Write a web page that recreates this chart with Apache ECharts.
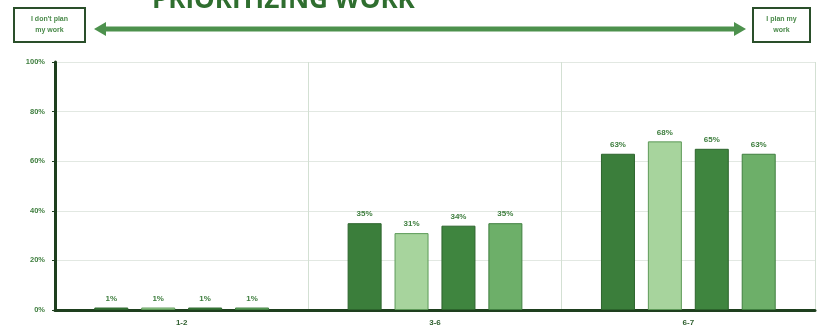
<!DOCTYPE html>
<html>
<head>
<meta charset="utf-8">
<title>Prioritizing work</title>
<script src="https://cdn.jsdelivr.net/npm/echarts@6/dist/echarts.min.js"></script>
<style>
  html, body { margin: 0; padding: 0; background: #ffffff; }
  #chart { width: 817px; height: 336px; }
</style>
</head>
<body>
<div id="chart"></div>
<script>
// Score bands on the planning scale
const categories = ['1-2', '3-6', '6-7'];

// Share of respondents (%) in each band, one array per group
const group1 = [1, 35, 63];
const group2 = [1, 31, 68];
const group3 = [1, 34, 65];
const group4 = [1, 35, 63];

// Value axis tick labels
const yTicks = ['0%', '20%', '40%', '60%', '80%', '100%'];

const fills = ['#3b7e3b', '#a7d49d', '#3f853f', '#6daf69'];
const borders = ['#2c642c', '#5d9a58', '#2c642c', '#3f7f3f'];
const groups = [group1, group2, group3, group4];

const chart = echarts.init(document.getElementById('chart'));

const series = groups.map((values, i) => ({
  type: 'bar',
  data: values,
  barWidth: 34,
  barGap: '38%',
  itemStyle: { color: fills[i], borderColor: borders[i], borderWidth: 1 },
  label: {
    show: true,
    position: 'top',
    distance: 5,
    formatter: (p) => p.value + '%',
    color: '#3d7d3d',
    fontSize: 8,
    fontWeight: 'bold',
    fontFamily: 'Arial, Liberation Sans, sans-serif'
  }
}));

const boxText = {
  fontSize: 7,
  fill: '#4a8a4a',
  fontWeight: 'bold',
  fontFamily: 'Arial, Liberation Sans, sans-serif',
  align: 'center',
  verticalAlign: 'middle',
  lineHeight: 11
};

chart.setOption({
  animation: false,
  backgroundColor: '#ffffff',
  grid: { left: 55, right: 2, top: 62, bottom: 26 },
  xAxis: {
    type: 'category',
    data: categories,
    axisLine: { lineStyle: { color: '#1e3f1e', width: 3 } },
    axisTick: { show: false },
    axisLabel: {
      color: '#2f5f2f',
      fontSize: 8,
      fontWeight: 'bold',
      margin: 9,
      fontFamily: 'Arial, Liberation Sans, sans-serif'
    },
    splitLine: { show: true, lineStyle: { color: '#d3e0d3', width: 1 } }
  },
  yAxis: {
    type: 'value',
    min: 0,
    max: 100,
    interval: 20,
    axisLine: { show: true, lineStyle: { color: '#1e3f1e', width: 3 } },
    axisTick: { show: true, inside: false, length: 3, lineStyle: { color: '#1e3f1e' } },
    axisLabel: {
      formatter: (v) => yTicks[v / 20],
      color: '#3d7d3d',
      fontSize: 7.5,
      fontWeight: 'bold',
      margin: 10,
      fontFamily: 'Arial, Liberation Sans, sans-serif'
    },
    splitLine: { lineStyle: { color: '#e2e8e2', width: 1 } }
  },
  series: series,
  graphic: [
    {
      type: 'text',
      left: 152,
      top: -12,
      style: {
        text: 'PRIORITIZING WORK',
        fill: '#2f6e2f',
        fontSize: 26,
        fontWeight: 'bold',
        fontFamily: 'Open Sans, Arial, sans-serif'
      }
    },
    // scale arrow running between the two end labels
    {
      type: 'line',
      shape: { x1: 104, y1: 29, x2: 736, y2: 29 },
      style: { stroke: '#4d914d', lineWidth: 5 }
    },
    {
      type: 'polygon',
      shape: { points: [[94, 29], [106, 22], [106, 36]] },
      style: { fill: '#4d914d' }
    },
    {
      type: 'polygon',
      shape: { points: [[746, 29], [734, 22], [734, 36]] },
      style: { fill: '#4d914d' }
    },
    {
      type: 'rect',
      shape: { x: 14, y: 8, width: 71, height: 34 },
      style: { fill: '#ffffff', stroke: '#2a4f2a', lineWidth: 2 }
    },
    {
      type: 'text',
      x: 49.5,
      y: 25,
      style: Object.assign({ text: "I don't plan\nmy work" }, boxText)
    },
    {
      type: 'rect',
      shape: { x: 753, y: 8, width: 57, height: 34 },
      style: { fill: '#ffffff', stroke: '#2a4f2a', lineWidth: 2 }
    },
    {
      type: 'text',
      x: 781.5,
      y: 25,
      style: Object.assign({ text: 'I plan my\nwork' }, boxText)
    }
  ]
});
</script>
</body>
</html>
